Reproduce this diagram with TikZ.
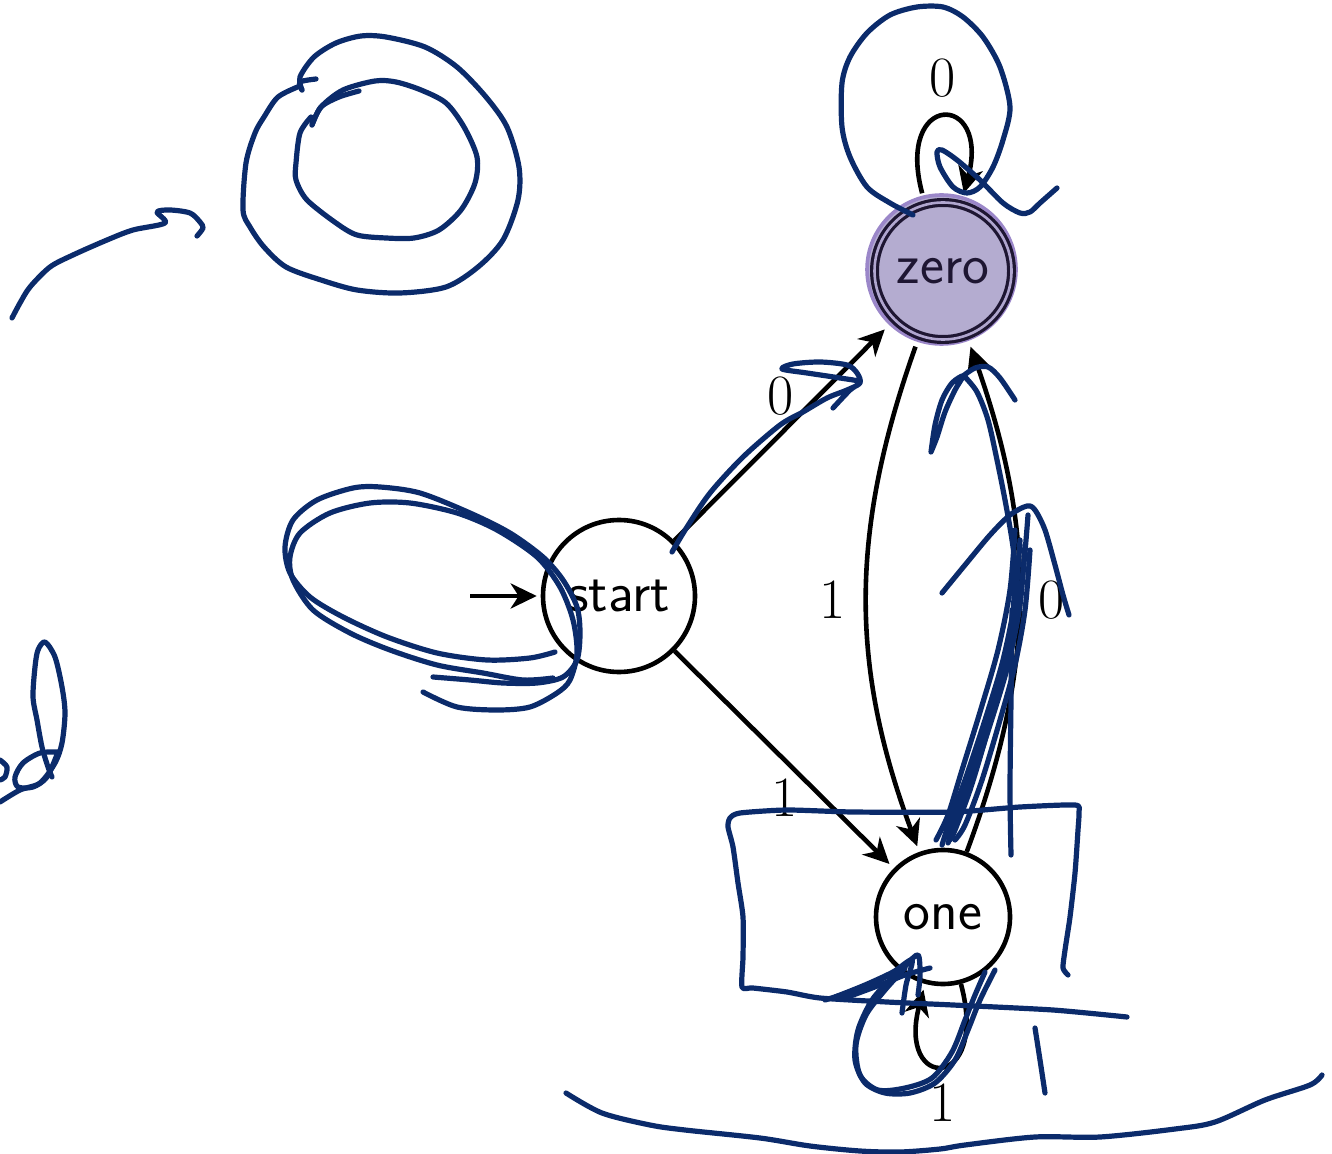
\documentclass[tikz,border=0pt]{standalone}
\usepackage{fontspec}
\usetikzlibrary{arrows.meta}
\definecolor{ink}{HTML}{0B2B6B}
\definecolor{zerofill}{HTML}{B4ACD0}
\definecolor{zeroring}{HTML}{9B87C9}
\definecolor{zerodark}{HTML}{1E1632}
\begin{document}
\begin{tikzpicture}[x=0.5pt,y=-0.5pt,
  bigfont/.style={font=\fontsize{28.5}{34}\selectfont},
  state/.style={circle, draw=black, line width=2.3pt, inner sep=0pt,
    font=\sffamily\fontsize{28.5}{34}\selectfont},
  edgeline/.style={line width=2.3pt, -{Stealth[length=13pt,width=12.5pt,inset=4pt]}},
  lbl/.style={bigfont, inner sep=3.33pt},
  scrib/.style={draw=ink, line width=2.6pt, line cap=round, line join=round},
]
\useasboundingbox (0,0) rectangle (1332,1154);

% states
\node[state, minimum size=76pt] (start) at (619,596) {start};
\node[state, minimum size=67pt] (one) at (943,917) {one};
\node[circle, draw=zeroring, line width=1.8pt, fill=zerofill, minimum size=74.5pt]
  (zerohalo) at (941.5,269.5) {};
\node[circle, draw=zerodark, double=zerofill!85!zeroring, double distance=1.3pt, line width=1.6pt,
  minimum size=68.5pt, outer sep=6pt, inner sep=0pt, text=zerodark,
  font=\sffamily\fontsize{28.5}{34}\selectfont] (zero) at (943,271) {zero};

% transitions
\coordinate (ini) at (470,596);
\draw[edgeline, shorten >=2pt] (ini) -- (start);
\draw[edgeline, shorten >=1pt] (start) -- node[lbl, above=5pt] {0} (zero);
\draw[edgeline, shorten >=3pt] (start) -- node[lbl, below=5pt] {1} (one);
\draw[edgeline, shorten >=3pt] (zero) to[bend right=20] node[lbl, left=6pt] {1} (one);
\draw[edgeline] (one) to[bend right=20] node[lbl, right=5pt] {0} (zero);
\draw[edgeline] (zero) to[out=105, in=75, looseness=6.5] node[lbl, above=5pt] {0} (zero);
\draw[edgeline, shorten >=3pt] (one) to[out=-75, in=-105, looseness=8] node[lbl, below=5pt] {1} (one);

% pen strokes: top left
\draw[scrib] plot[smooth, tension=0.5] coordinates {(12,318) (20,303) (30,287) (50,267) (73,255) (107,240) (133,230) (165,223) (157,212) (170,210) (190,213) (200,222) (203,228) (197,236)};
\draw[scrib] plot[smooth, tension=0.5] coordinates {(316,79) (300,82) (302,90)};
\draw[scrib] plot[smooth, tension=0.5] coordinates {(300,86) (278,97) (264,117) (255,133) (246,163) (243,210) (250,227) (264,247) (286,267) (321,280) (357,290) (400,293) (446,287) (478,267) (503,240) (518,200) (519,167) (507,127) (486,97) (457,67) (425,47) (386,37) (361,36) (336,43) (314,57) (300,77) (302,90)};
\draw[scrib] plot[smooth, tension=0.5] coordinates {(359,91) (339,97) (321,107) (312,125)};
\draw[scrib] plot[smooth, tension=0.5] coordinates {(311,117) (300,133) (296,163) (296,180) (307,200) (336,223) (357,235) (386,238) (414,238) (439,230) (461,210) (475,183) (477,157) (464,127) (446,103) (421,90) (396,82) (375,81) (343,90) (321,107) (312,125)};

% pen strokes: bottom left
\draw[scrib] plot[smooth, tension=0.5] coordinates {(0,802) (20,790) (40,783) (55,763) (62,743) (65,713) (62,687) (55,657) (45,642) (38,650) (35,667) (33,697) (37,720) (42,747) (48,767) (52,777)};
\draw[scrib] plot[smooth, tension=0.5] coordinates {(58,752) (40,753) (23,763) (15,777) (18,787) (33,787) (47,777) (58,752)};
\draw[scrib] plot[smooth, tension=0.5] coordinates {(0,760) (7,767) (5,777) (0,780)};

% pen strokes: around start
\draw[scrib] plot[smooth, tension=0.5] coordinates {(555,652) (530,658) (487,660) (437,653) (387,637) (343,617) (310,597) (290,573) (285,547) (293,520) (317,500) (353,488) (380,487) (420,493) (470,513) (510,533) (543,557) (563,580) (577,607) (580,633) (577,660) (563,677) (537,683) (503,683) (470,680) (433,677)};
\draw[scrib] plot[smooth, tension=0.5] coordinates {(553,678) (523,680) (483,673) (437,665) (390,650) (350,633) (313,610) (293,580) (290,557) (300,533) (330,513) (370,503) (410,503) (457,513) (497,530) (537,557) (560,587) (573,620) (577,653) (570,680) (557,693) (530,707) (497,710) (457,707) (423,692)};

% pen strokes: along start to zero
\draw[scrib] plot[smooth, tension=0.5] coordinates {(672,552) (687,527) (710,493) (743,457) (780,425) (803,412) (827,398) (847,390) (860,383) (857,373) (847,365) (820,362) (793,364) (782,369) (807,373) (840,378) (860,382) (850,390) (833,408)};

% pen strokes: loop over zero
\draw[scrib] plot[smooth, tension=0.5] coordinates {(913,215) (890,203) (867,187) (850,157) (842,127) (842,83) (850,57) (867,33) (890,15) (917,7) (943,7) (963,17) (983,37) (1000,67) (1010,107) (1003,140) (993,167) (980,187) (967,193) (953,187) (940,167) (937,152) (942,150) (957,160) (980,180) (1003,203) (1020,213) (1030,212) (1040,203) (1057,188)};

% pen strokes: between zero and one
\draw[scrib] plot[smooth, tension=0.5] coordinates {(931,452) (935,425) (942,400) (952,383) (963,376) (955,390) (945,412) (937,437) (931,452)};
\draw[scrib] plot[smooth, tension=0.5] coordinates {(963,376) (975,368) (988,367) (1000,378) (1015,400)};
\draw[scrib] plot[smooth, tension=0.5] coordinates {(965,377) (977,392) (988,420) (997,460) (1005,500) (1012,540) (1015,570) (1012,620) (1000,680) (985,740) (970,790) (955,830) (950,840)};
\draw[scrib] plot[smooth, tension=0.5] coordinates {(942,593) (965,565) (990,535) (1010,515) (1027,506) (1035,510) (1045,530) (1055,565) (1063,595) (1069,615)};
\draw[scrib] plot[smooth, tension=0.5] coordinates {(1020,540) (1015,600) (1003,660) (985,720) (965,780) (950,820) (942,845)};
\draw[scrib] plot[smooth, tension=0.5] coordinates {(1025,545) (1020,605) (1008,665) (990,725) (970,785) (955,825) (948,843)};
\draw[scrib] plot[smooth, tension=0.5] coordinates {(1028,515) (1022,580) (1010,640) (995,700) (975,760) (958,808) (945,838)};
\draw[scrib] plot[smooth, tension=0.5] coordinates {(1015,530) (1010,590) (998,650) (980,712) (962,770) (948,815) (936,840)};
\draw[scrib] plot[smooth, tension=0.5] coordinates {(1030,550) (1025,610) (1015,665) (1000,720) (982,780) (965,825) (955,840)};
\draw[scrib] plot[smooth, tension=0.5] coordinates {(1012,610) (1011,700) (1010,790) (1011,855)};

% pen strokes: box around one
\draw[scrib] plot[smooth, tension=0.4] coordinates {(1068,975) (1063,968) (1065,950) (1070,917) (1075,873) (1078,830) (1079,812) (1075,805) (1020,807) (953,812) (853,812) (787,810) (740,813) (730,818) (728,827) (733,847) (738,883) (743,917) (743,957) (742,987) (753,988) (787,992) (820,998) (887,1002) (953,1005) (1053,1010) (1127,1017)};

% pen strokes: loop under one
\draw[scrib] plot[smooth, tension=0.5] coordinates {(825,1000) (850,992) (880,980) (905,965) (918,955) (920,975) (918,995)};
\draw[scrib] plot[smooth, tension=0.5] coordinates {(835,997) (865,985) (893,972) (912,960) (906,985) (902,1013)};
\draw[scrib] plot[smooth, tension=0.5] coordinates {(845,998) (880,985) (905,975) (930,968)};
\draw[scrib] plot[smooth, tension=0.5] coordinates {(912,960) (892,978) (872,1000) (858,1030) (855,1060) (865,1083) (885,1093) (910,1093) (935,1083) (955,1060) (968,1030) (980,1000) (995,970)};
\draw[scrib] plot[smooth, tension=0.5] coordinates {(905,968) (885,990) (866,1015) (856,1045) (860,1075) (878,1090) (905,1088) (932,1078) (952,1052) (965,1020) (975,995) (985,972)};
\draw[scrib] plot[smooth, tension=0.5] coordinates {(1035,1028) (1040,1060) (1045,1093)};

% pen strokes: long line at the bottom
\draw[scrib] plot[smooth, tension=0.5] coordinates {(566,1093) (602,1113) (650,1125) (685,1130) (760,1138) (810,1146) (860,1151) (900,1152) (940,1149) (965,1145) (1035,1137) (1100,1137) (1175,1129) (1215,1122) (1265,1100) (1310,1085) (1322,1075)};
\end{tikzpicture}
\end{document}
